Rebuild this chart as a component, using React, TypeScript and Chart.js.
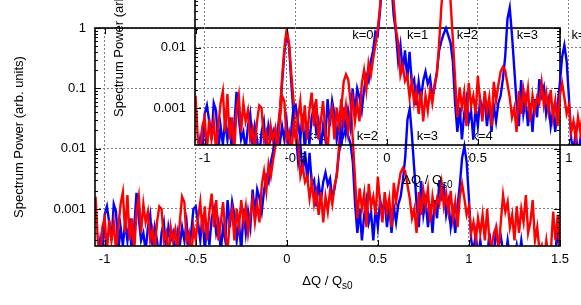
import React, { useEffect, useRef } from "react";
import { Chart, registerables } from "chart.js";

Chart.register(...registerables);

// Spectrum sampled on a uniform grid in ΔQ / Qs0
const dqStart = -1.05;
const dqStep = 0.0125;

const redPower = [
  1.6e-3, 3e-4, 1.5e-4, 5e-4, 7e-4, 2e-4, 6.5e-4, 3e-4, 6e-4, 2e-4,
  5e-4, 1.2e-3, 1.9e-3, 4e-4, 1.7e-3, 3e-4, 7e-4, 2e-4, 9e-4, 1.6e-3,
  4e-4, 1.2e-3, 6e-4, 9e-4, 3e-4, 4.5e-4, 2e-4, 6e-4, 1.1e-3, 1e-3,
  3e-4, 4e-4, 1.5e-4, 5e-4, 3e-4, 4.5e-4, 2e-4, 6e-4, 1.6e-3, 1.3e-3,
  3e-4, 4e-4, 1.5e-4, 5e-4, 3e-4, 7e-4, 1.3e-3, 4e-4, 1.1e-3, 3e-4,
  9e-4, 1.8e-3, 5e-4, 1.4e-3, 3e-4, 6e-4, 1.3e-3, 4e-4, 2e-4, 7e-4,
  1e-3, 3e-4, 1e-3, 5e-4, 1.4e-3, 6e-4, 1.1e-3, 4e-4, 8e-4, 1.4e-3,
  6e-4, 1.2e-3, 6e-4, 2.5e-3, 4.2e-3, 2e-3, 5.5e-3, 3.5e-3, 6.5e-3, 0.011,
  0.02, 0.045, 0.16, 0.5, 0.95, 0.55, 0.17, 0.06, 0.02, 0.012,
  3.5e-3, 5e-3, 2.8e-3, 3.4e-3, 1.5e-3, 2.8e-3, 1.2e-3, 1.9e-3, 8e-4, 1.9e-3,
  6e-4, 1.6e-3, 9e-4, 2e-3, 1.2e-3, 2.5e-3, 3.5e-3, 0.012, 0.05, 0.13,
  0.17, 0.14, 0.06, 0.014, 3e-3, 7e-4, 2.2e-3, 1e-3, 1.8e-3, 5e-4,
  2.6e-3, 1.1e-3, 1.6e-3, 8e-4, 3.4e-3, 1.2e-3, 6e-4, 1.9e-3, 9e-4, 1.5e-3,
  5e-4, 2.7e-3, 1.3e-3, 2.4e-3, 4e-3, 4.8e-3, 4.2e-3, 2.5e-3, 1.5e-3, 7e-4,
  1e-3, 4e-4, 1.9e-3, 8e-4, 2e-3, 1.1e-3, 2.1e-3, 6e-4, 1.6e-3, 9e-4,
  1.5e-3, 1.2e-3, 2.6e-3, 1.1e-3, 1.8e-3, 9e-4, 2e-3, 7e-4, 1.3e-3, 5e-4,
  1.6e-3, 2.6e-3, 1.5e-3, 8e-4, 1.1e-3, 4e-4, 6e-4, 3e-4, 7e-4, 4e-4,
  8e-4, 3e-4, 1e-3, 3e-4, 2.5e-4, 4e-4, 5e-4, 2e-4, 6e-4, 1.7e-3,
  9e-4, 1.3e-3, 5e-4, 8e-4, 3e-4, 1.1e-3, 4e-4, 1e-3, 6e-4, 1.7e-3,
  4e-4, 6e-4, 1.4e-3, 3e-4, 5e-4, 2e-4, 2.5e-4, 1.5e-4, 3e-4, 1.5e-4,
  2e-4, 9e-4, 3e-4, 8e-4, 2e-4,
];

const bluePower = [
  2e-4, 1.5e-4, 3e-4, 1.5e-4, 8e-4, 1.1e-3, 6e-4, 3e-4, 1.2e-3, 9e-4,
  2e-4, 5e-4, 2.5e-4, 6e-4, 3e-4, 7e-4, 1.5e-4, 5e-4, 1.85e-3, 7e-4,
  3e-4, 4e-4, 2e-4, 5e-4, 8e-4, 2.5e-4, 5e-4, 3e-4, 1.5e-4, 4e-4,
  6e-4, 2e-4, 5e-4, 3e-4, 4e-4, 1.5e-4, 4e-4, 2.5e-4, 5e-4, 3e-4,
  6e-4, 2e-4, 4e-4, 1e-3, 1.1e-3, 6e-4, 3e-4, 8e-4, 2e-4, 6e-4,
  2.5e-4, 7e-4, 1e-3, 4e-4, 6e-4, 2e-4, 5e-4, 3e-4, 1.4e-3, 5e-4,
  1.3e-3, 8e-4, 3e-4, 6e-4, 2e-4, 1e-3, 4e-4, 9e-4, 5e-4, 2.1e-3,
  8e-4, 2.1e-3, 1.5e-3, 9e-4, 2e-3, 3.5e-3, 2.8e-3, 6e-3, 9e-3, 0.018,
  0.016, 0.04, 0.13, 0.42, 0.85, 0.5, 0.12, 0.035, 0.018, 0.006,
  0.011, 4e-3, 9e-3, 3e-3, 8.5e-3, 2.5e-3, 3e-3, 1.1e-3, 2.7e-3, 1.4e-3,
  2.8e-3, 4e-3, 2.5e-3, 3.2e-3, 1.5e-3, 2.2e-3, 4e-3, 9e-3, 0.013, 0.017,
  0.021, 0.016, 0.012, 6e-3, 1.2e-3, 4e-4, 1e-3, 3e-4, 8e-4, 1.4e-3,
  6e-4, 9e-4, 3e-4, 1e-3, 5e-4, 1.4e-3, 9e-4, 1.4e-3, 5e-4, 1.2e-3,
  4e-4, 1.1e-3, 6e-4, 1.2e-3, 1.6e-3, 3e-3, 7e-3, 0.03, 0.046, 0.016,
  4.5e-3, 1.2e-3, 5e-4, 2.9e-3, 8e-4, 1.4e-3, 5e-4, 1.2e-3, 4e-4, 1.4e-3,
  7e-4, 3e-3, 1.6e-3, 2.2e-3, 8e-4, 1.3e-3, 5e-4, 9e-4, 4e-4, 1.1e-3,
  2.5e-3, 7e-3, 0.011, 6e-3, 1.5e-3, 3e-4, 2e-4, 4e-4, 1.5e-4, 3e-4,
  1.5e-4, 2e-4, 1.5e-4, 4e-4, 1.5e-4, 2e-4, 4.5e-4, 2.5e-4, 3.5e-4, 2e-4,
  1.5e-4, 3e-4, 1.5e-4, 2e-4, 1.5e-4, 2.5e-4, 1.5e-4, 3e-4, 1.5e-4, 2e-4,
  1.5e-4, 2e-4, 1.5e-4, 2e-4, 1.5e-4, 1.5e-4, 2e-4, 1.5e-4, 1.5e-4, 2e-4,
  1.5e-4, 1.5e-4, 2e-4, 4.8e-4, 1.5e-4,
];

const xTickValues = [-1, -0.5, 0, 0.5, 1, 1.5];
const yTickValues = [0.001, 0.01, 0.1, 1];
const xRange = [-1.053, 1.5];
const yRange = [2.43e-4, 1];

const peakLabels = ["k=0", "k=1", "k=2", "k=3", "k=4"];
const peakLabelX = [-0.19, 0.111, 0.384, 0.713, 1.014];
const peakLabelY = 0.0162;

const FONT = "'Liberation Sans', Arial, Helvetica, sans-serif";

const toPoints = (vals: number[]) =>
  vals.map((v, i) => ({ x: +(dqStart + i * dqStep).toFixed(4), y: v }));

const gnuFrame = {
  id: "gnuFrame",
  beforeDatasetsDraw(chart: any) {
    const { ctx, scales } = chart;
    ctx.save();
    ctx.fillStyle = "#000";
    ctx.font = `13px ${FONT}`;
    ctx.textAlign = "left";
    ctx.textBaseline = "middle";
    peakLabels.forEach((t, i) => {
      ctx.fillText(t, scales.x.getPixelForValue(peakLabelX[i]), scales.y.getPixelForValue(peakLabelY));
    });
    ctx.restore();
  },
  afterDatasetsDraw(chart: any) {
    const { ctx, chartArea: a, scales } = chart;
    ctx.save();
    ctx.strokeStyle = "#000";
    ctx.lineWidth = 1;
    ctx.beginPath();
    const major = 6;
    const minor = 3;
    xTickValues.forEach((v) => {
      const px = Math.round(scales.x.getPixelForValue(v)) + 0.5;
      ctx.moveTo(px, a.bottom);
      ctx.lineTo(px, a.bottom - major);
      ctx.moveTo(px, a.top);
      ctx.lineTo(px, a.top + major);
    });
    for (let n = -4; n <= 0; n++) {
      for (let m = 1; m <= 9; m++) {
        const v = m * Math.pow(10, n);
        if (v < yRange[0] || v > yRange[1]) continue;
        const py = Math.round(scales.y.getPixelForValue(v)) + 0.5;
        const len = m === 1 ? major : minor;
        ctx.moveTo(a.left, py);
        ctx.lineTo(a.left + len, py);
        ctx.moveTo(a.right, py);
        ctx.lineTo(a.right - len, py);
      }
    }
    ctx.stroke();
    ctx.lineWidth = 1.6;
    ctx.strokeRect(a.left, a.top, a.right - a.left, a.bottom - a.top);
    ctx.restore();
  },
  afterDraw(chart: any) {
    const { ctx, chartArea: a } = chart;
    ctx.save();
    ctx.fillStyle = "#000";
    ctx.textBaseline = "alphabetic";
    ctx.textAlign = "left";
    const main = "\u0394Q / Q";
    const sub = "s0";
    ctx.font = `13px ${FONT}`;
    const w1 = ctx.measureText(main).width;
    ctx.font = `10px ${FONT}`;
    const w2 = ctx.measureText(sub).width;
    const x0 = (a.left + a.right) / 2 - (w1 + w2) / 2;
    const base = a.bottom + 39;
    ctx.font = `13px ${FONT}`;
    ctx.fillText(main, x0, base);
    ctx.font = `10px ${FONT}`;
    ctx.fillText(sub, x0 + w1, base + 4);
    ctx.restore();
  },
};

function makeConfig(): any {
  return {
    type: "line",
    data: {
      datasets: [
        {
          label: "red",
          data: toPoints(redPower),
          borderColor: "#ff0000",
          borderWidth: 2.4,
          pointRadius: 0,
          tension: 0,
          order: 0,
        },
        {
          label: "blue",
          data: toPoints(bluePower),
          borderColor: "#0000ff",
          borderWidth: 2.4,
          pointRadius: 0,
          tension: 0,
          order: 1,
        },
      ],
    },
    options: {
      animation: false,
      responsive: false,
      maintainAspectRatio: false,
      events: [],
      layout: { padding: { left: 0, right: 21, top: 28, bottom: 0 } },
      plugins: { legend: { display: false }, tooltip: { enabled: false } },
      scales: {
        x: {
          type: "linear",
          min: xRange[0],
          max: xRange[1],
          afterBuildTicks: (s: any) => {
            s.ticks = xTickValues.map((v) => ({ value: v }));
          },
          afterFit: (s: any) => {
            s.height = 59;
          },
          grid: { color: "#808080", lineWidth: 1, drawTicks: false },
          border: { display: false, dash: [2, 2] },
          ticks: {
            color: "#000",
            font: { family: FONT, size: 13 },
            padding: 6,
            autoSkip: false,
            maxRotation: 0,
            callback: (v: number) => String(v),
          },
        },
        y: {
          type: "logarithmic",
          min: yRange[0],
          max: yRange[1],
          afterBuildTicks: (s: any) => {
            s.ticks = yTickValues.map((v) => ({ value: v }));
          },
          afterFit: (s: any) => {
            s.width = 95;
          },
          grid: { color: "#808080", lineWidth: 1, drawTicks: false },
          border: { display: false, dash: [2, 2] },
          ticks: {
            color: "#000",
            font: { family: FONT, size: 13 },
            padding: 9,
            autoSkip: false,
            callback: (v: number) => String(v),
          },
          title: {
            display: true,
            text: "Spectrum Power (arb. units)",
            color: "#000",
            font: { family: FONT, size: 13 },
            padding: { top: 12, bottom: 0 },
          },
        },
      },
    },
    plugins: [gnuFrame],
  };
}

export default function App() {
  const refA = useRef<HTMLCanvasElement | null>(null);
  const refB = useRef<HTMLCanvasElement | null>(null);

  useEffect(() => {
    const charts: Chart[] = [];
    if (refA.current) charts.push(new Chart(refA.current, makeConfig()));
    if (refB.current) charts.push(new Chart(refB.current, makeConfig()));
    return () => charts.forEach((c) => c.destroy());
  }, []);

  return (
    <div
      style={{
        position: "fixed",
        left: 0,
        top: 0,
        width: 581,
        height: 305,
        overflow: "hidden",
        background: "#fff",
      }}
    >
      <canvas
        ref={refA}
        width={581}
        height={305}
        style={{ position: "absolute", left: 0, top: 0 }}
      />
      <canvas
        ref={refB}
        width={581}
        height={305}
        style={{ position: "absolute", left: 100, top: -101 }}
      />
    </div>
  );
}
